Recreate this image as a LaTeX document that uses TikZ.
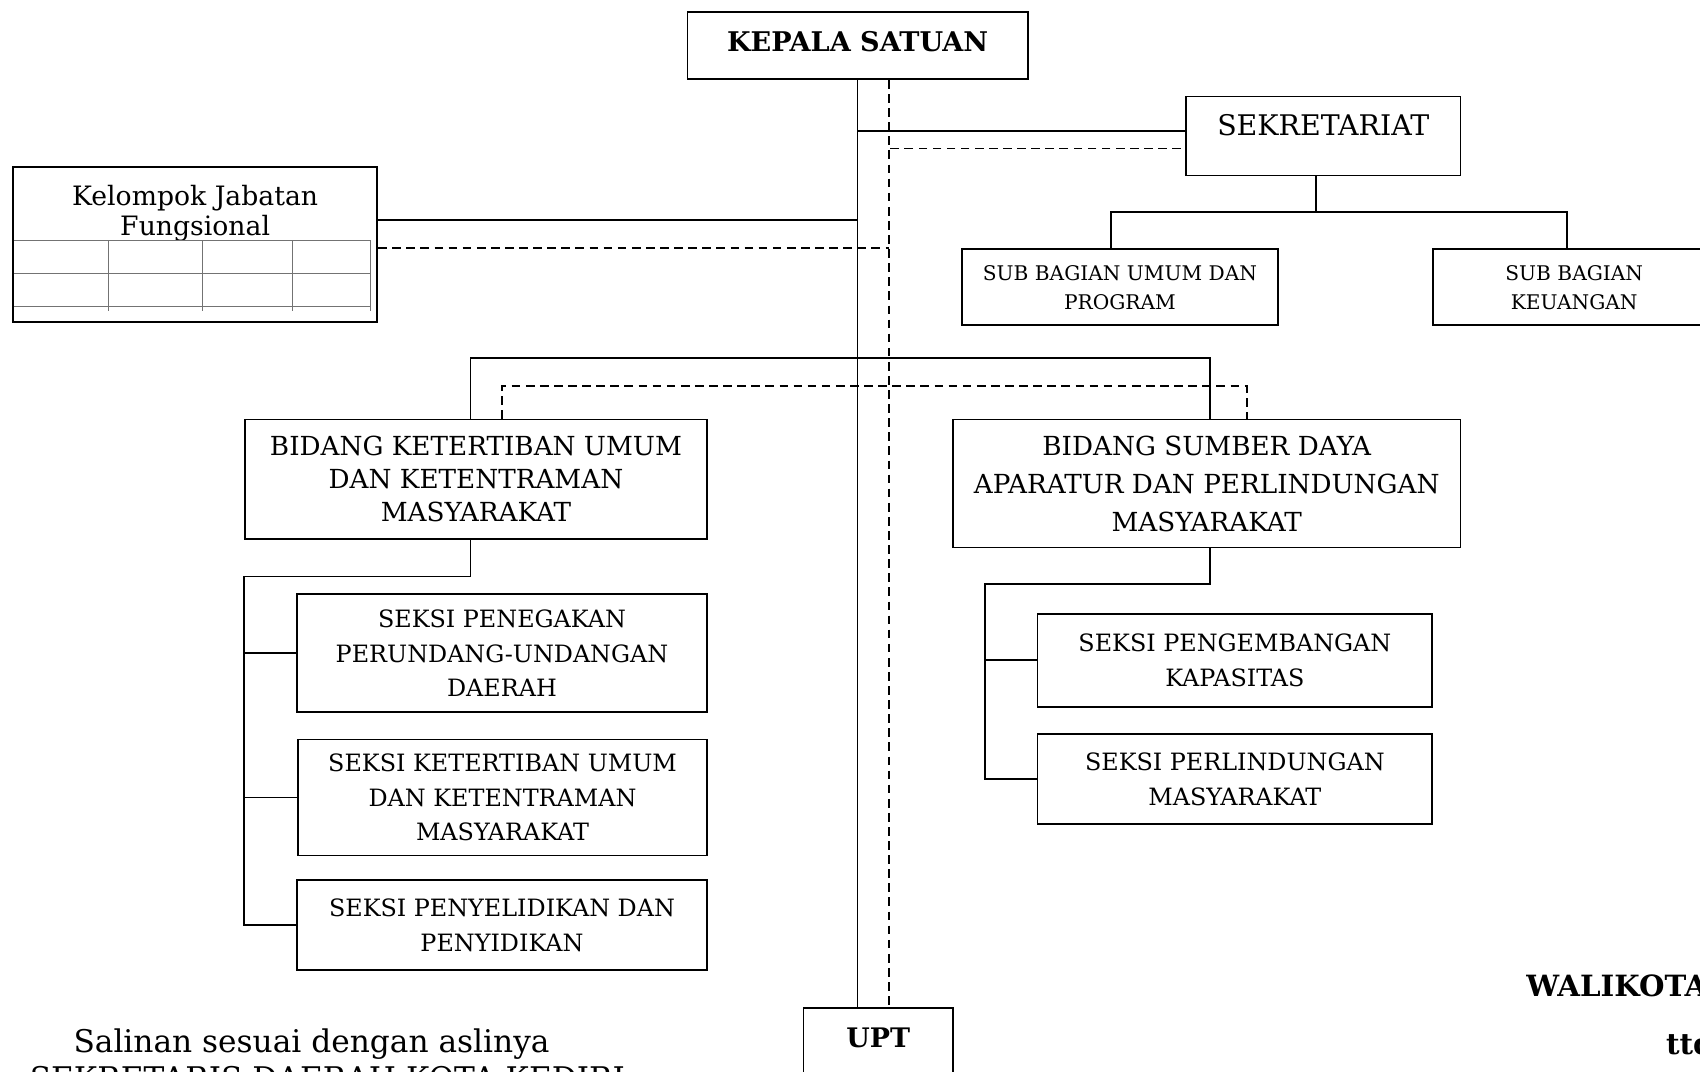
\documentclass[tikz,border=0pt]{standalone}
\usepackage{fontspec}
\setmainfont{DejaVu Serif}
\usetikzlibrary{positioning}

\begin{document}
\begin{tikzpicture}[x=0.5pt, y=-0.5pt, line width=0.8pt,
  unit/.style={draw, rectangle, align=center, inner sep=2pt, font=\fontsize{11}{16}\selectfont},
  bidang/.style={unit, font=\fontsize{12.1}{15.25}\selectfont},
  subunit/.style={unit, font=\fontsize{9.3}{13.5}\selectfont},
  dashline/.style={dash pattern=on 4pt off 2.5pt},
  tbl/.style={line width=0.5pt, black!55}]
\useasboundingbox (0,0) rectangle (1568,988);

% Kepala dan garis utama
\node[unit, minimum width=157pt, minimum height=31pt, text depth=4pt, font=\fontsize{12.5}{14}\selectfont\bfseries] (kepala) at (791,42) {KEPALA SATUAN};
\node[unit, minimum width=69pt, minimum height=40pt, text depth=13pt, font=\fontsize{12.4}{14}\selectfont\bfseries] (upt) at (810,970) {UPT};
\coordinate (dtrunk) at ([xshift=14.5pt]kepala.south);
\draw (kepala.south) -- (kepala.south |- upt.north);
\draw[dashline] (dtrunk) -- (dtrunk |- upt.north);

% Sekretariat
\node[unit, minimum width=126.5pt, minimum height=36.5pt, text depth=10pt, font=\fontsize{13.1}{15}\selectfont] (sekr) at (1220.5,125.5) {SEKRETARIAT};
\node[subunit, minimum width=146pt, minimum height=35pt] (subA) at (1033,265) {SUB BAGIAN UMUM DAN\\PROGRAM};
\node[subunit, minimum width=130pt, minimum height=35pt] (subB) at (1452,265) {SUB BAGIAN\\KEUANGAN};
\draw ([yshift=2.25pt]sekr.west) -- ([yshift=2.25pt]sekr.west -| kepala.south);
\draw[dashline] ([xshift=-2pt,yshift=-5.75pt]sekr.west) -- ([yshift=-5.75pt]sekr.west -| dtrunk);
\draw ([xshift=-3.5pt]sekr.south) -- ++(0,-16.5pt) coordinate (sj);
\draw ([xshift=-4pt]subA.north) |- (sj) -| ([xshift=-3.5pt]subB.north);

% Kelompok Jabatan Fungsional
\node[draw, rectangle, minimum width=168pt, minimum height=71.5pt] (kjf) at (180,225.5) {};
\node[below=5pt of kjf.north, align=center, font=\fontsize{12.3}{14}\selectfont] (kjft) {Kelompok Jabatan\\Fungsional};
\foreach \y in {222,252,283}
  \draw[tbl] (13,\y) -- (342,\y);
\foreach \x in {100,187,270,342}
  \draw[tbl] (\x,222) -- (\x,287);
\draw ([yshift=11.25pt]kjf.east) -- ([yshift=11.25pt]kjf.east -| kepala.south);
\draw[dashline] ([yshift=-1.75pt]kjf.east) -- ([yshift=-1.75pt]kjf.east -| dtrunk);

% Bidang
\node[bidang, minimum width=213pt, minimum height=55pt] (bidA) at (439,442) {BIDANG KETERTIBAN UMUM\\DAN KETENTRAMAN\\MASYARAKAT};
\node[bidang, minimum width=234pt, minimum height=59pt, font=\fontsize{12.1}{17.5}\selectfont] (bidB) at (1113,446) {BIDANG SUMBER DAYA\\APARATUR DAN PERLINDUNGAN\\MASYARAKAT};
\draw ([xshift=-2.5pt]bidA.north) -- ++(0,28pt) -| ([xshift=1.5pt]bidB.north);
\draw[dashline] ([xshift=12pt]bidA.north) -- ++(0,15pt) -| ([xshift=18.5pt]bidB.north);

% Seksi bidang ketertiban
\node[unit, minimum width=189pt, minimum height=54.5pt] (sA1) at (463,602.5) {SEKSI PENEGAKAN\\PERUNDANG-UNDANGAN\\DAERAH};
\node[unit, minimum width=188.5pt, minimum height=53.5pt] (sA2) at (463.5,735.5) {SEKSI KETERTIBAN UMUM\\DAN KETENTRAMAN\\MASYARAKAT};
\node[unit, minimum width=189pt, minimum height=41.5pt] (sA3) at (463,853.5) {SEKSI PENYELIDIKAN DAN\\PENYIDIKAN};
\draw ([xshift=-2.5pt]bidA.south) -- ++(0,-17pt) -| (bidA.west |- sA3.west) -- (sA3.west);
\draw (bidA.west |- sA1.west) -- (sA1.west);
\draw (bidA.west |- sA2.west) -- (sA2.west);

% Seksi bidang sumber daya
\node[unit, minimum width=182pt, minimum height=43pt] (sB1) at (1139,609) {SEKSI PENGEMBANGAN\\KAPASITAS};
\node[unit, minimum width=182pt, minimum height=41.5pt] (sB2) at (1139,718.5) {SEKSI PERLINDUNGAN\\MASYARAKAT};
\coordinate (rs) at ([xshift=-24pt]sB1.west);
\draw ([xshift=1.5pt]bidB.south) -- ++(0,-16.5pt) -| (rs |- sB2.west) -- (sB2.west);
\draw (rs |- sB1.west) -- (sB1.west);

% Pengesahan
\node[anchor=base west, inner sep=0pt, font=\fontsize{14.4}{18}\selectfont] (salinan) at (67,971) {Salinan sesuai dengan aslinya};
\node[anchor=base, inner sep=0pt, font=\fontsize{14.4}{18}\selectfont] (sekda) at (302,1005) {SEKRETARIS DAERAH KOTA KEDIRI};
\node[anchor=base west, inner sep=0pt, font=\fontsize{13.5}{16}\selectfont\bfseries] (walikota) at (1407,919) {WALIKOTA};
\node[anchor=base west, inner sep=0pt, font=\fontsize{13.5}{16}\selectfont\bfseries] (ttd) at (1536,973) {ttd};
\end{tikzpicture}
\end{document}
